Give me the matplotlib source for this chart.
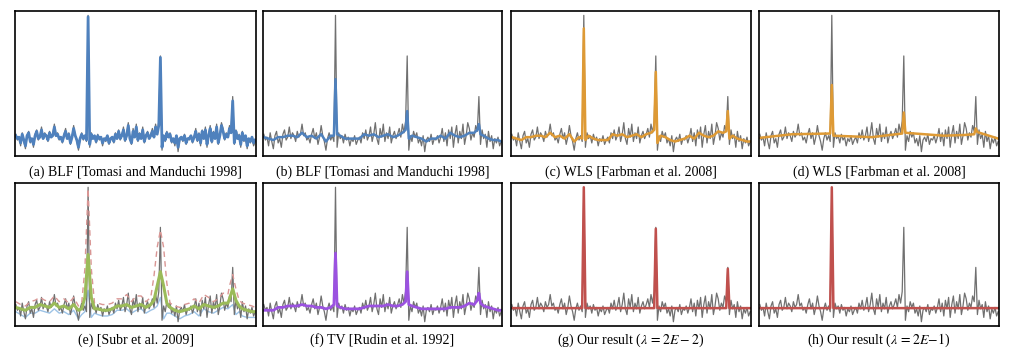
import matplotlib
matplotlib.use("Agg")
import matplotlib.pyplot as plt

plt.rcParams['font.family'] = ['Liberation Serif', 'DejaVu Serif']
plt.rcParams['mathtext.fontset'] = 'stix'

# noisy input signal with three spikes (index 45, 90, 135)
noisy = [0.15, 0.11, 0.13, 0.07, 0.16, 0.10, 0.05, 0.14, 0.17, 0.09, 0.12, 0.06, 0.15, 0.18, 0.11,
         0.13, 0.20, 0.12, 0.16, 0.14, 0.10, 0.17, 0.13, 0.15, 0.22, 0.14, 0.16, 0.11, 0.13, 0.09,
         0.15, 0.19, 0.12, 0.16, 0.08, 0.13, 0.21, 0.14, 0.10, 0.04, 0.12, 0.16, 0.11, 0.14, 0.10,
         0.97,
         0.06, 0.16, 0.12, 0.14, 0.09, 0.15, 0.11, 0.13, 0.07, 0.12, 0.10, 0.14, 0.08, 0.11, 0.13,
         0.09, 0.16, 0.12, 0.18, 0.11, 0.14, 0.20, 0.10, 0.15, 0.23, 0.12, 0.08, 0.19, 0.13, 0.22,
         0.10, 0.16, 0.12, 0.20, 0.09, 0.14, 0.17, 0.12, 0.15, 0.19, 0.13, 0.22, 0.16, 0.24,
         0.69,
         0.04, 0.14, 0.10, 0.17, 0.13, 0.16, 0.09, 0.12, 0.07, 0.14, 0.03, 0.11, 0.13, 0.10, 0.15,
         0.08, 0.12, 0.11, 0.14, 0.09, 0.13, 0.19, 0.10, 0.16, 0.07, 0.18, 0.12, 0.20, 0.06, 0.15,
         0.21, 0.09, 0.17, 0.12, 0.22, 0.08, 0.14, 0.23, 0.19, 0.11, 0.16, 0.13, 0.21, 0.17,
         0.41,
         0.08, 0.18, 0.12, 0.15, 0.06, 0.17, 0.10, 0.14, 0.05, 0.12, 0.09, 0.13, 0.07, 0.10]
x_full = list(range(len(noisy)))

# (a) BLF, small range sigma: almost the input
blf_a = [0.14, 0.12, 0.13, 0.09, 0.15, 0.11, 0.07, 0.14, 0.16, 0.10, 0.12, 0.08, 0.14, 0.17, 0.12,
         0.13, 0.18, 0.12, 0.15, 0.14, 0.11, 0.16, 0.13, 0.14, 0.20, 0.14, 0.15, 0.12, 0.13, 0.10,
         0.14, 0.17, 0.12, 0.15, 0.09, 0.13, 0.19, 0.14, 0.11, 0.06, 0.12, 0.15, 0.12, 0.14, 0.11,
         0.96,
         0.08, 0.15, 0.12, 0.14, 0.10, 0.14, 0.12, 0.13, 0.09, 0.12, 0.11, 0.14, 0.09, 0.12, 0.13,
         0.10, 0.15, 0.12, 0.17, 0.12, 0.14, 0.18, 0.11, 0.14, 0.21, 0.12, 0.09, 0.17, 0.13, 0.20,
         0.11, 0.15, 0.12, 0.18, 0.10, 0.14, 0.16, 0.12, 0.14, 0.17, 0.13, 0.20, 0.15, 0.21,
         0.68,
         0.06, 0.14, 0.11, 0.16, 0.13, 0.15, 0.10, 0.12, 0.09, 0.14, 0.06, 0.12, 0.13, 0.11, 0.14,
         0.09, 0.12, 0.12, 0.14, 0.10, 0.13, 0.17, 0.11, 0.15, 0.09, 0.17, 0.12, 0.18, 0.08, 0.14,
         0.19, 0.10, 0.16, 0.12, 0.20, 0.09, 0.14, 0.21, 0.17, 0.12, 0.15, 0.13, 0.19, 0.16,
         0.38,
         0.09, 0.17, 0.12, 0.14, 0.08, 0.16, 0.11, 0.14, 0.07, 0.12, 0.10, 0.13, 0.09, 0.11]

# coarse sample positions used by the smoother results
x_grid = [0, 3, 6, 9, 12, 15, 18, 21, 24, 27, 30, 33, 36, 39, 42, 44, 45, 46,
          48, 51, 54, 57, 60, 63, 66, 69, 72, 75, 78, 81, 84, 87, 89, 90, 91,
          93, 96, 99, 102, 105, 108, 111, 114, 117, 120, 123, 126, 129, 132, 134, 135, 136,
          138, 141, 144, 147, 149]

blf_b = [0.13, 0.12, 0.11, 0.13, 0.13, 0.14, 0.14, 0.13, 0.16, 0.13, 0.14, 0.12, 0.15, 0.10, 0.14,
         0.14, 0.53, 0.15,
         0.14, 0.12, 0.12, 0.12, 0.12, 0.15, 0.14, 0.15, 0.13, 0.14, 0.15, 0.13, 0.14, 0.16,
         0.18, 0.31, 0.12,
         0.14, 0.13, 0.12, 0.10, 0.12, 0.12, 0.14, 0.12, 0.16, 0.14, 0.13, 0.14, 0.16, 0.16,
         0.18, 0.22, 0.15,
         0.14, 0.12, 0.11, 0.11, 0.10]

wls_c = [0.13, 0.12, 0.11, 0.13, 0.13, 0.14, 0.14, 0.13, 0.16, 0.13, 0.14, 0.12, 0.15, 0.10, 0.13,
         0.12, 0.88, 0.11,
         0.14, 0.12, 0.11, 0.11, 0.11, 0.15, 0.14, 0.15, 0.13, 0.14, 0.15, 0.13, 0.15, 0.16,
         0.18, 0.58, 0.09,
         0.14, 0.13, 0.11, 0.10, 0.11, 0.12, 0.14, 0.12, 0.16, 0.14, 0.13, 0.14, 0.17, 0.16,
         0.17, 0.31, 0.12,
         0.14, 0.12, 0.11, 0.10, 0.10]

tv_f = [0.11, 0.11, 0.11, 0.13, 0.13, 0.14, 0.14, 0.14, 0.15, 0.14, 0.14, 0.13, 0.13, 0.12, 0.13,
        0.15, 0.51, 0.14,
        0.13, 0.12, 0.12, 0.12, 0.12, 0.13, 0.14, 0.14, 0.14, 0.14, 0.15, 0.14, 0.14, 0.15,
        0.17, 0.38, 0.15,
        0.14, 0.13, 0.12, 0.12, 0.12, 0.12, 0.12, 0.12, 0.13, 0.13, 0.13, 0.14, 0.16, 0.15,
        0.18, 0.23, 0.16,
        0.14, 0.13, 0.12, 0.11, 0.11]

# (d) WLS, strong smoothing
x_d = [0, 20, 44, 45, 46, 70, 89, 90, 91, 115, 128, 134, 135, 136, 149]
wls_d = [0.125, 0.15, 0.155, 0.49, 0.14, 0.13, 0.155, 0.30, 0.16, 0.14, 0.145, 0.15, 0.19, 0.165, 0.12]

# (e) Subr et al.: smoothed, upper and lower envelopes
x_e = [0, 3, 6, 9, 12, 15, 18, 21, 24, 27, 30, 33, 36, 39, 41, 43, 45, 47, 49,
       51, 54, 57, 60, 63, 66, 69, 72, 75, 78, 81, 84, 86, 88, 90, 92, 94, 96,
       99, 102, 105, 108, 111, 114, 117, 120, 123, 126, 129, 132, 133, 135, 137, 139, 141,
       144, 147, 149]
subr_mid = [0.13, 0.12, 0.11, 0.13, 0.13, 0.15, 0.14, 0.13, 0.16, 0.13, 0.14, 0.12, 0.15, 0.11,
            0.12, 0.20, 0.50, 0.20, 0.12,
            0.12, 0.11, 0.11, 0.12, 0.14, 0.14, 0.15, 0.13, 0.14, 0.15, 0.13, 0.15,
            0.18, 0.28, 0.38, 0.28, 0.16, 0.13,
            0.11, 0.10, 0.11, 0.12, 0.14, 0.12, 0.15, 0.14, 0.13, 0.14, 0.16, 0.16,
            0.19, 0.26, 0.18, 0.14, 0.12,
            0.11, 0.10, 0.10]
subr_up = [0.17, 0.15, 0.14, 0.17, 0.18, 0.20, 0.18, 0.17, 0.21, 0.17, 0.19, 0.16, 0.20, 0.14,
           0.16, 0.40, 0.96, 0.40, 0.16,
           0.16, 0.15, 0.15, 0.16, 0.19, 0.19, 0.22, 0.17, 0.21, 0.21, 0.17, 0.20,
           0.35, 0.55, 0.67, 0.55, 0.30, 0.16,
           0.14, 0.13, 0.15, 0.16, 0.19, 0.16, 0.22, 0.20, 0.17, 0.19, 0.23, 0.22,
           0.28, 0.36, 0.26, 0.18, 0.16,
           0.15, 0.14, 0.13]
subr_lo = [0.10, 0.08, 0.06, 0.09, 0.09, 0.11, 0.10, 0.09, 0.12, 0.09, 0.10, 0.08, 0.11, 0.05,
           0.08, 0.10, 0.25, 0.06, 0.09,
           0.08, 0.07, 0.07, 0.08, 0.11, 0.11, 0.12, 0.09, 0.11, 0.12, 0.09, 0.11,
           0.12, 0.14, 0.20, 0.05, 0.09, 0.09,
           0.07, 0.05, 0.07, 0.08, 0.10, 0.07, 0.12, 0.10, 0.09, 0.11, 0.13, 0.12,
           0.13, 0.15, 0.08, 0.10, 0.07,
           0.06, 0.06, 0.06]

# (g), (h) our result
x_g = [0, 44, 45, 46, 89, 90, 91, 134, 135, 136, 149]
ours_g = [0.125, 0.125, 0.97, 0.125, 0.125, 0.68, 0.125, 0.125, 0.40, 0.125, 0.125]
x_h = [0, 44, 45, 46, 149]
ours_h = [0.125, 0.125, 0.97, 0.125, 0.125]

captions = ['(a) BLF [Tomasi and Manduchi 1998]', '(b) BLF [Tomasi and Manduchi 1998]',
            '(c) WLS [Farbman et al. 2008]', '(d) WLS [Farbman et al. 2008]',
            '(e) [Subr et al. 2009]', '(f) TV [Rudin et al. 1992]',
            r'(g) Our result ($\lambda\,=2E-2$)', r'(h) Our result ($\lambda\,=2E\!-\!1$)']

W, H = 1019, 359
fig = plt.figure(figsize=(W / 100, H / 100), dpi=100)
lefts = [15, 263, 511, 759]
rights = [256, 502, 751, 999]
rows = [(11, 156), (183, 326)]
cap_y = [172, 340]

gray = '#707070'
axes = []
for r, (top, bot) in enumerate(rows):
    for c in range(4):
        ax = fig.add_axes([lefts[c] / W, 1 - bot / H, (rights[c] - lefts[c]) / W, (bot - top) / H])
        ax.set_xlim(-0.5, 149.5)
        ax.set_ylim(0, 1)
        ax.set_xticks([])
        ax.set_yticks([])
        for s in ax.spines.values():
            s.set_linewidth(1.2)
        axes.append(ax)
        fig.text((lefts[c] + rights[c]) / 2 / W, 1 - cap_y[r] / H, captions[r * 4 + c],
                 ha='center', va='center', fontsize=10)

blue = '#4F81BD'
orange = '#DE9A35'
ax = axes[0]
ax.plot(x_full, noisy, color=gray, lw=0.9)
ax.plot(x_full, blf_a, color=blue, lw=2.0)

ax = axes[1]
ax.plot(x_full, noisy, color=gray, lw=0.9)
ax.plot(x_grid, blf_b, color=blue, lw=1.8)

ax = axes[2]
ax.plot(x_full, noisy, color=gray, lw=0.9)
ax.plot(x_grid, wls_c, color=orange, lw=1.8)

ax = axes[3]
ax.plot(x_full, noisy, color=gray, lw=0.9)
ax.plot(x_d, wls_d, color=orange, lw=1.8)

ax = axes[4]
ax.plot(x_e, subr_lo, color='#9DC3E6', lw=1.0)
ax.plot(x_full, noisy, color=gray, lw=0.9)
ax.plot(x_e, subr_up, color='#D99694', lw=1.0, ls=(0, (4, 3)))
ax.plot(x_e, subr_mid, color='#9BBB59', lw=2.2)

ax = axes[5]
ax.plot(x_full, noisy, color=gray, lw=0.9)
ax.plot(x_grid, tv_f, color='#9B52E0', lw=2.0)

red = '#C0504D'
ax = axes[6]
ax.plot(x_full, noisy, color=gray, lw=0.9)
ax.plot(x_g, ours_g, color=red, lw=1.8)

ax = axes[7]
ax.plot(x_full, noisy, color=gray, lw=0.9)
ax.plot(x_h, ours_h, color=red, lw=1.8)

fig.savefig('out.png', dpi=100)
